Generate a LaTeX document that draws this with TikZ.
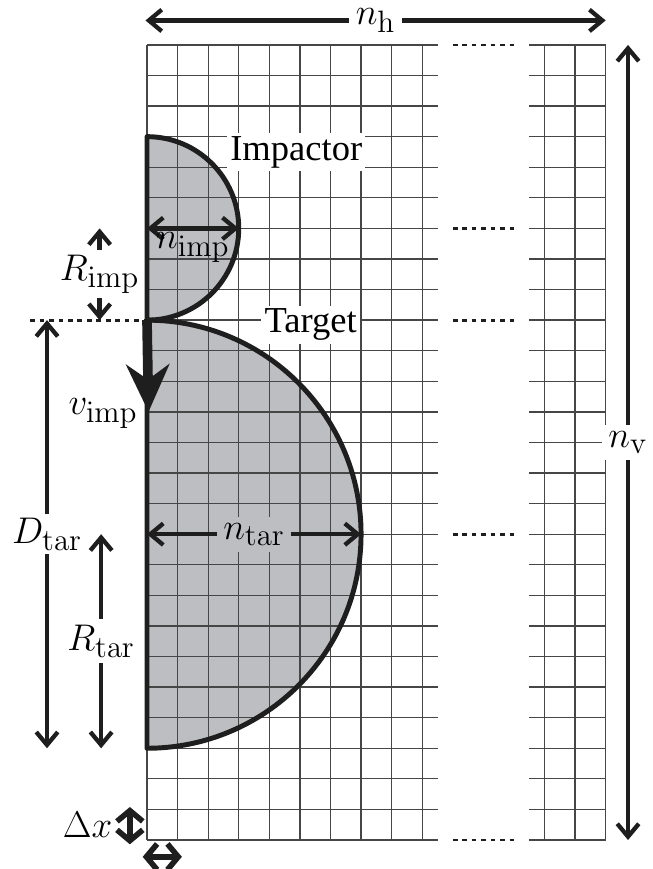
\documentclass[tikz,border=0pt]{standalone}
\usepackage{amsmath}
\usepackage[no-math]{fontspec}
\setmainfont{Liberation Serif}
\usetikzlibrary{arrows.meta,calc}
\definecolor{cellline}{RGB}{70, 70, 70}
\definecolor{bodygray}{RGB}{189, 190, 194}
\definecolor{inkblack}{RGB}{30, 30, 30}

\begin{document}
\begin{tikzpicture}[x=0.5cm, y=0.5cm,
    every node/.style={font=\fontsize{19}{22}\selectfont, inner sep=2pt},
    gridline/.style={line width=0.6pt, draw=cellline},
    dotline/.style={line width=1.3pt, draw=inkblack, dash pattern=on 2.2pt off 2.2pt},
    outline/.style={line width=2.3pt, draw=inkblack, line join=round},
    dimarrow/.style={line width=2pt, draw=inkblack, {Straight Barb[length=6pt,width=10pt]}-{Straight Barb[length=6pt,width=10pt]}},
    cellarrow/.style={line width=2.6pt, draw=inkblack, {Straight Barb[length=5pt,width=12pt]}-{Straight Barb[length=5pt,width=12pt]}},
    textlabel/.style={font=\fontsize{17}{20}\selectfont, fill=white, inner sep=1.5pt}]
    \useasboundingbox (-4.807,-0.948) rectangle (16.514,27.469);

    % Bodies (fill below the mesh)
    \fill[bodygray] (0,23) arc[start angle=90, end angle=-90, radius=3] -- cycle;
    \fill[bodygray] (0,17) arc[start angle=90, end angle=-90, radius=7] -- cycle;

    % Mesh
    \foreach \y in {0,...,26} {
        \draw[gridline] (0,\y) -- (9.5,\y);
        \draw[gridline] (12.5,\y) -- (15,\y);
    }
    \foreach \x in {0,...,9,13,14,15}
        \draw[gridline] (\x,0) -- (\x,26);
    \foreach \y in {0,10,17,20,26}
        \draw[dotline] (10,\y) -- (12,\y);

    % Outlines
    \draw[outline] (0,23) arc[start angle=90, end angle=-90, radius=3] -- cycle;
    \draw[outline] (0,17) arc[start angle=90, end angle=-90, radius=7] -- cycle;
    \coordinate (contact_l) at (-3.82,17);
    \coordinate (contact) at (0,17);
    \draw[dotline] (contact_l) -- (contact);

    % Body labels
    \node[textlabel] (impactor) at (4.88,22.5) {Impactor};
    \node[textlabel] (target) at (5.35,16.85) {Target};

    % Mesh size
    \coordinate (nh_l) at (-0.05,26.8);
    \coordinate (nh_r) at (15,26.8);
    \draw[dimarrow] (nh_l) -- node[fill=white, inner xsep=3pt, inner ysep=1pt] (nh) {$n_\mathrm{h}$} (nh_r);
    \coordinate (nv_t) at (15.73,26);
    \coordinate (nv_b) at (15.73,0);
    \draw[dimarrow] (nv_t) -- node[fill=white, inner sep=3pt] (nv) {$n_\mathrm{v}$} (nv_b);

    % Impactor
    \coordinate (imp_c) at (0,20);
    \coordinate (imp_r) at (3,20);
    \draw[dimarrow] (imp_c) -- node[below, inner sep=1pt] (nimp) {$n_\mathrm{imp}$} (imp_r);
    \coordinate (rimp_t) at (-1.55,20);
    \coordinate (rimp_b) at (-1.55,17);
    \draw[dimarrow] (rimp_t) -- node[fill=white] (rimp) {$R_\mathrm{imp}$} (rimp_b);

    % Impact velocity
    \coordinate (vimp_tip) at (0.05,14);
    \draw[line width=4.5pt, draw=inkblack, -{Stealth[length=22pt,width=20pt,inset=7pt]}] (contact) -- (vimp_tip);
    \node[anchor=east] (vimp) at (-0.15,13.95) {$v_\mathrm{imp}$};

    % Target
    \coordinate (tar_c) at (0,10);
    \coordinate (tar_r) at (7,10);
    \draw[dimarrow] (tar_c) -- node[fill=bodygray, inner sep=3pt] (ntar) {$n_\mathrm{tar}$} (tar_r);
    \coordinate (dtar_t) at (-3.27,17);
    \coordinate (dtar_b) at (-3.27,3);
    \draw[dimarrow] (dtar_t) -- node[fill=white] (dtar) {$D_\mathrm{tar}$} (dtar_b);
    \coordinate (rtar_t) at (-1.5,10);
    \coordinate (rtar_b) at (-1.5,3);
    \draw[dimarrow] (rtar_t) -- node[fill=white, inner sep=3pt] (rtar) {$R_\mathrm{tar}$} (rtar_b);

    % Cell size
    \coordinate (dx_t) at (-0.56,1.08);
    \coordinate (dx_b) at (-0.56,-0.14);
    \draw[cellarrow] (dx_t) -- (dx_b);
    \coordinate (dx_l) at (-0.14,-0.55);
    \coordinate (dx_r) at (1.14,-0.55);
    \draw[cellarrow] (dx_l) -- (dx_r);
    \node[anchor=east] (dx) at (-0.98,0.5) {$\Delta x$};
\end{tikzpicture}
\end{document}
